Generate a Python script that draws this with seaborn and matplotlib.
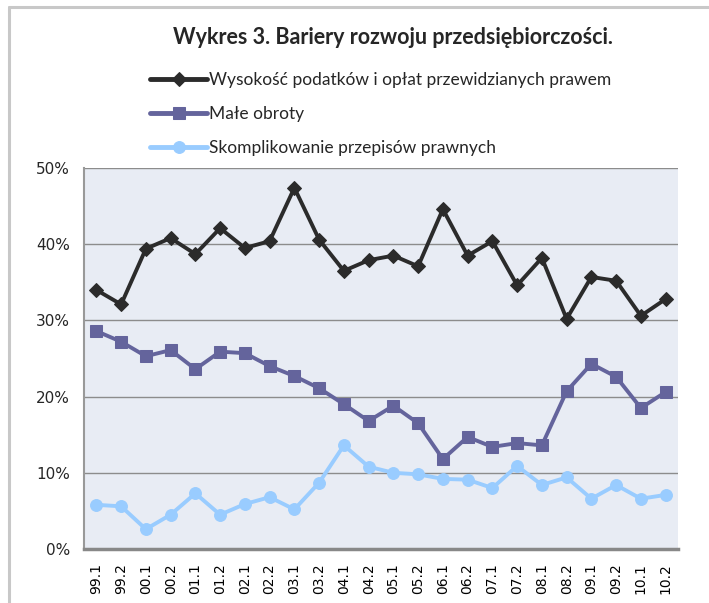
import numpy as np
import pandas as pd
import seaborn as sns
from matplotlib import pyplot as plt
from matplotlib.lines import Line2D
from matplotlib.ticker import FuncFormatter

periods = ['99.1', '99.2', '00.1', '00.2', '01.1', '01.2', '02.1', '02.2', '03.1', '03.2',
           '04.1', '04.2', '05.1', '05.2', '06.1', '06.2', '07.1', '07.2', '08.1', '08.2',
           '09.1', '09.2', '10.1', '10.2']
podatki = [34.0, 32.1, 39.4, 40.8, 38.7, 42.1, 39.5, 40.4, 47.4, 40.6, 36.5, 37.9,
           38.5, 37.1, 44.6, 38.5, 40.4, 34.6, 38.2, 30.2, 35.7, 35.2, 30.6, 32.8]
obroty = [28.6, 27.2, 25.3, 26.1, 23.6, 25.9, 25.7, 24.0, 22.7, 21.1, 19.0, 16.8,
          18.8, 16.5, 11.8, 14.7, 13.4, 13.9, 13.6, 20.7, 24.3, 22.6, 18.5, 20.6]
przepisy = [5.8, 5.6, 2.6, 4.5, 7.3, 4.5, 5.9, 6.8, 5.2, 8.7, 13.6, 10.8,
            10.0, 9.8, 9.2, 9.1, 8.0, 10.9, 8.4, 9.4, 6.6, 8.4, 6.6, 7.1]
names = ['Wysokość podatków i opłat przewidzianych prawem', 'Małe obroty',
         'Skomplikowanie przepisów prawnych']

df = pd.DataFrame({'okres': periods * 3,
                   'wartosc': np.array(podatki + obroty + przepisy) / 100,
                   'seria': np.repeat(names, len(periods))})

colors = {names[0]: '#2b2b2b', names[1]: '#64649c', names[2]: '#99ccff'}
markers = {names[0]: 'D', names[1]: 's', names[2]: 'o'}
msize = {names[0]: 7, names[1]: 8, names[2]: 8.5}

sns.set_style('white')
plt.rcParams['font.family'] = ['DejaVu Sans']

fig = plt.figure(figsize=(7.09, 6.03), dpi=100)
ax = fig.add_axes([84 / 709, 54 / 603, 594 / 709, 381 / 603])
ax.set_facecolor('#e8ecf4')

for name in names:
    sub = df[df['seria'] == name]
    sns.lineplot(data=sub, x='okres', y='wartosc', ax=ax, color=colors[name], lw=2.8,
                 marker=markers[name], markersize=msize[name], markeredgecolor=colors[name],
                 label=name, sort=False)

ax.set_xlim(-0.5, len(periods) - 0.5)
ax.set_ylim(0, 0.5)
ax.set_yticks(np.arange(0, 0.51, 0.1))
ax.yaxis.set_major_formatter(FuncFormatter(lambda v, p: f'{v * 100:.0f}%'))
ax.set_xticks(range(len(periods)))
ax.set_xticklabels(periods, rotation=90)
ax.set_xticks(np.arange(-0.5, len(periods), 1), minor=True)
ax.tick_params(axis='x', which='major', length=0, pad=10, labelsize=10, colors='#000000')
ax.tick_params(axis='x', which='minor', length=5, width=2, color='#888888', direction='out')
ax.tick_params(axis='y', length=4, width=1, color='#888888', labelsize=11, pad=6)
ax.set_xlabel('')
ax.set_ylabel('')
ax.grid(axis='y', color='#8c8c8c', lw=1)
ax.set_axisbelow(True)
for s in ['top', 'right']:
    ax.spines[s].set_visible(False)
ax.spines['left'].set_color('#999999')
ax.spines['left'].set_linewidth(1.5)
ax.spines['bottom'].set_color('#888888')
ax.spines['bottom'].set_linewidth(2.5)

leg = ax.legend(loc='upper left', bbox_to_anchor=(150 / 709, 1 - 72 / 603),
                bbox_transform=fig.transFigure, frameon=False,
                handlelength=3.3, handletextpad=0.1, labelspacing=1.05,
                borderaxespad=0, borderpad=0, prop={'family': 'Lato', 'size': 12.5})
for h in leg.get_lines():
    h.set_linewidth(3.5)

fig.text(393 / 709, 1 - 37 / 603, 'Wykres 3. Bariery rozwoju przedsiębiorczości.',
         ha='center', va='center', fontsize=15.5, fontweight='bold', family='Lato')

fig.add_artist(Line2D([9 / 709, 1], [1 - 7 / 603, 1 - 7 / 603], color='#c8c8c8', lw=2.2,
                      transform=fig.transFigure))
fig.add_artist(Line2D([9 / 709, 9 / 709], [0, 1 - 7 / 603], color='#c8c8c8', lw=2.2,
                      transform=fig.transFigure))

fig.savefig('out.png', dpi=100)
